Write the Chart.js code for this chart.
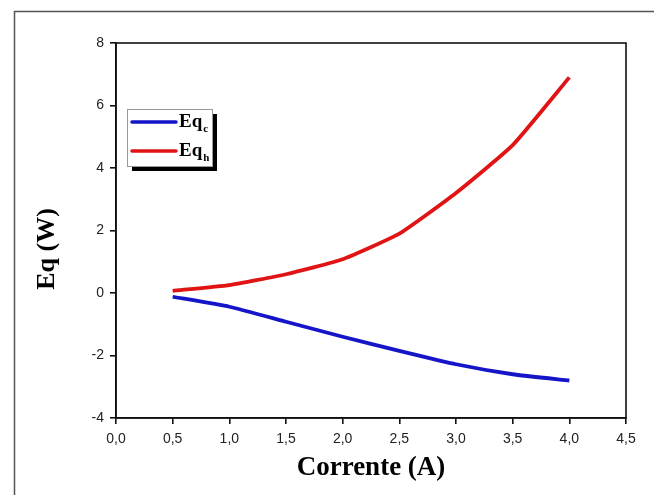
<!DOCTYPE html>
<html>
<head>
<meta charset="utf-8">
<script src="https://cdn.jsdelivr.net/npm/chart.js@4"></script>
<style>
  html, body { margin: 0; padding: 0; background: #fff; }
  #wrap { width: 654px; height: 495px; position: relative; }
</style>
</head>
<body>
<div id="wrap"><canvas id="chart"></canvas></div>
<script>
// corrente (A)
const currents = [0.5, 1.0, 1.5, 2.0, 2.5, 3.0, 3.5, 4.0];
// Eq_c and Eq_h (W)
const eqC = [-0.12, -0.44, -0.92, -1.4, -1.85, -2.28, -2.6, -2.8];
const eqH = [0.07, 0.25, 0.6, 1.08, 1.9, 3.2, 4.73, 6.9];
const xTicks = [0, 0.5, 1, 1.5, 2, 2.5, 3, 3.5, 4, 4.5];
const yTicks = [-4, -2, 0, 2, 4, 6, 8];

const blue = '#1414c8';
const red = '#e01414';

function toPoints(ys){
    const pts = [];
    for (let i = 0; i < currents.length; i++) {
        pts.push({x: currents[i], y: ys[i]});
    }
    return pts;
}

// frame, box, legend and titles
const decor = {
    id: 'decor',
    afterDraw(chart){
        const ctx = chart.ctx;
        const a = chart.chartArea;
        ctx.save();
        // outer frame
        ctx.strokeStyle = '#555';
        ctx.lineWidth = 1.5;
        ctx.strokeRect(14.5, 11.5, 700, 600);
        // plot box
        ctx.strokeStyle = '#111';
        ctx.lineWidth = 1.6;
        ctx.strokeRect(a.left, a.top, a.right - a.left, a.bottom - a.top);

        // legend
        const lx = 127, ly = 109, lw = 85, lh = 57;
        ctx.fillStyle = '#000';
        ctx.fillRect(lx + 5, ly + 5, lw, lh);
        ctx.fillStyle = '#fff';
        ctx.fillRect(lx, ly, lw, lh);
        ctx.strokeStyle = '#999';
        ctx.lineWidth = 1;
        ctx.strokeRect(lx + 0.5, ly + 0.5, lw, lh);
        const rows = [[blue, 'c', 122], [red, 'h', 151]];
        rows.forEach(r => {
            ctx.strokeStyle = r[0];
            ctx.lineWidth = 3.5;
            ctx.lineCap = 'round';
            ctx.beginPath();
            ctx.moveTo(132, r[2]);
            ctx.lineTo(176, r[2]);
            ctx.stroke();
            ctx.fillStyle = '#000';
            ctx.textBaseline = 'middle';
            ctx.textAlign = 'left';
            ctx.font = 'bold 19px "Liberation Serif"';
            ctx.fillText('Eq', 179, r[2]);
            const w = ctx.measureText('Eq').width;
            ctx.font = 'bold 11px "Liberation Serif"';
            ctx.fillText(r[1], 179 + w + 1, r[2] + 7);
        });

        // axis titles
        ctx.fillStyle = '#000';
        ctx.textAlign = 'center';
        ctx.textBaseline = 'middle';
        ctx.font = 'bold 27px "Liberation Serif"';
        ctx.fillText('Corrente (A)', (a.left + a.right) / 2, 468);
        ctx.translate(47, 249);
        ctx.rotate(-Math.PI / 2);
        ctx.font = 'bold 26px "Liberation Serif"';
        ctx.fillText('Eq (W)', 0, 0);
        ctx.restore();
    }
};

new Chart(document.getElementById('chart'), {
    type: 'line',
    data: {
        datasets: [{
            label: 'Eq_c',
            data: toPoints(eqC),
            borderColor: blue,
            borderWidth: 3.8,
            pointRadius: 0,
            tension: 0.15
        }, {
            label: 'Eq_h',
            data: toPoints(eqH),
            borderColor: red,
            borderWidth: 3.8,
            pointRadius: 0,
            tension: 0.15
        }]
    },
    options: {
        responsive: true,
        maintainAspectRatio: false,
        animation: false,
        layout: { padding: { top: 43, right: 28, left: 0, bottom: 0 } },
        plugins: { legend: { display: false }, tooltip: { enabled: false } },
        scales: {
            x: {
                type: 'linear',
                min: 0,
                max: 4.5,
                afterBuildTicks: s => { s.ticks = xTicks.map(v => ({value: v})); },
                afterFit: s => { s.height = 77; },
                grid: { drawOnChartArea: false, drawTicks: true, tickLength: 6, color: '#111', lineWidth: 1.6 },
                border: { display: true, color: '#111', width: 1.6 },
                ticks: {
                    padding: 7,
                    color: '#222',
                    font: { family: '"Liberation Sans"', size: 14 },
                    callback: v => v.toFixed(1).replace('.', ',')
                }
            },
            y: {
                min: -4,
                max: 8,
                afterBuildTicks: s => { s.ticks = yTicks.map(v => ({value: v})); },
                afterFit: s => { s.width = 116; },
                grid: { drawOnChartArea: false, drawTicks: true, tickLength: 6, color: '#111', lineWidth: 1.6 },
                border: { display: true, color: '#111', width: 1.6 },
                ticks: {
                    padding: 6,
                    color: '#222',
                    font: { family: '"Liberation Sans"', size: 14 },
                    callback: v => String(v)
                }
            }
        }
    },
    plugins: [decor]
});
</script>
</body>
</html>
